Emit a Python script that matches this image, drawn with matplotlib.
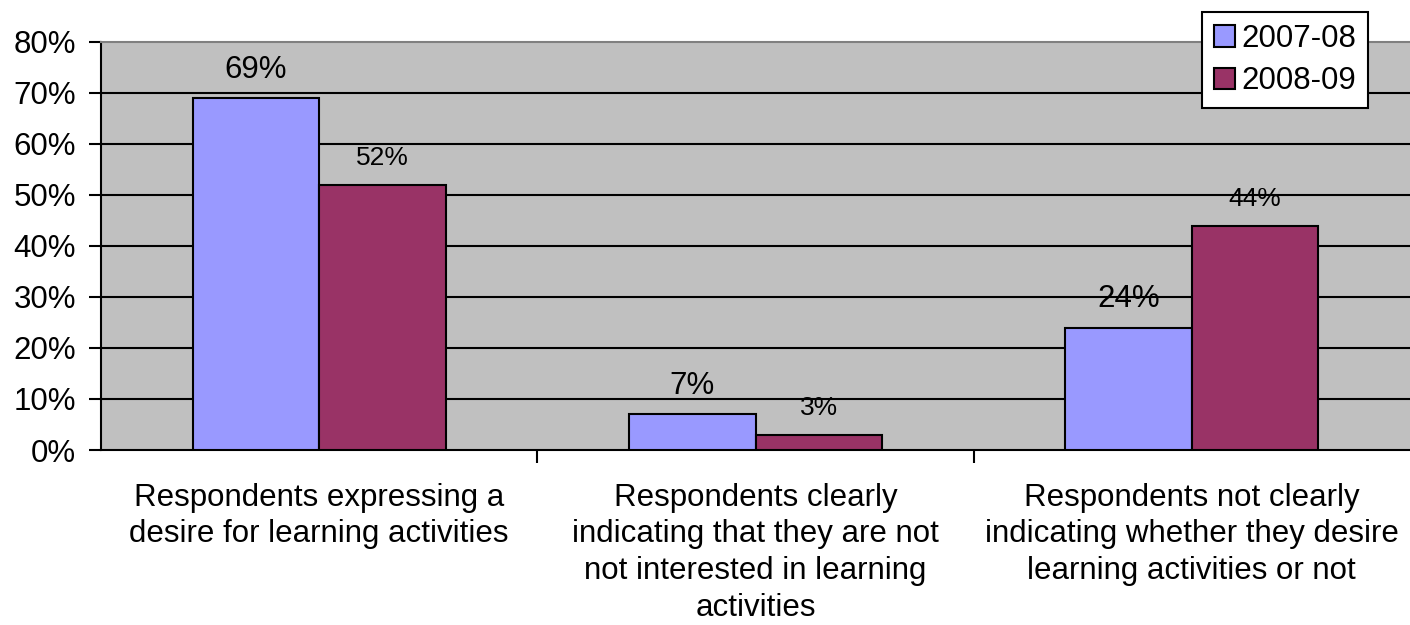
import matplotlib
matplotlib.use("Agg")
import matplotlib.pyplot as plt
from matplotlib.patches import Patch
import numpy as np

categories = [
    "Respondents expressing a\ndesire for learning activities",
    "Respondents clearly\nindicating that they are not\nnot interested in learning\nactivities",
    "Respondents not clearly\nindicating whether they desire\nlearning activities or not",
]
series_names = ["2007-08", "2008-09"]
values_0708 = [69, 7, 24]
values_0809 = [52, 3, 44]
yticks = [0, 10, 20, 30, 40, 50, 60, 70, 80]
ytick_labels = [f"{v}%" for v in yticks]

plt.rcParams['font.family'] = ['Liberation Sans', 'DejaVu Sans']

fig = plt.figure(figsize=(14.1, 6.25), dpi=100)
ax = fig.add_axes([101/1410, 1 - 450/625, 1 - 101/1410, (450 - 42)/625])
ax.set_facecolor("#C0C0C0")

x = np.arange(len(categories))
w = 0.29
b1 = ax.bar(x - w, values_0708, width=w, align='edge', color="#9999FF",
            edgecolor="black", linewidth=1.5, zorder=3)
b2 = ax.bar(x, values_0809, width=w, align='edge', color="#993366",
            edgecolor="black", linewidth=1.5, zorder=3)

for rect, v in zip(b1, values_0708):
    ax.annotate(f"{v}%", (rect.get_x() + rect.get_width()/2, rect.get_height()),
                xytext=(0, 14.5), textcoords='offset points', ha='center',
                va='baseline', fontsize=22.5, zorder=4)
for rect, v in zip(b2, values_0809):
    ax.annotate(f"{v}%", (rect.get_x() + rect.get_width()/2, rect.get_height()),
                xytext=(0, 14), textcoords='offset points', ha='center',
                va='baseline', fontsize=19, zorder=4)

ax.set_ylim(0, 80)
ax.set_xlim(-0.5, 2.5)
ax.set_yticks(yticks)
ax.set_yticklabels(ytick_labels, fontsize=22.5)
for yv in yticks[1:-1]:
    ax.axhline(yv, color="black", linewidth=1.5, zorder=1)

ax.set_xticks([0.5, 1.5])
ax.set_xticklabels([])
ax.set_xticks(x, minor=True)
ax.set_xticklabels(categories, minor=True, fontsize=22.5, linespacing=1.29)
ax.tick_params(axis='x', which='minor', length=0, pad=23.5)
ax.tick_params(axis='x', which='major', length=9, width=1.5, direction='out')
ax.tick_params(axis='y', length=9, width=1.5, direction='out', pad=9)

ax.spines['top'].set_color("#808080")
ax.spines['top'].set_linewidth(1.5)
ax.spines['right'].set_visible(False)
ax.spines['left'].set_linewidth(1.5)
ax.spines['bottom'].set_linewidth(1.5)

handles = [Patch(facecolor="#9999FF", edgecolor="black", linewidth=1.5),
           Patch(facecolor="#993366", edgecolor="black", linewidth=1.5)]
leg = fig.legend(handles, series_names, loc='upper left',
                 bbox_to_anchor=(1202/1410, 1 - 12/625), fontsize=22.5,
                 handlelength=0.68, handleheight=0.68, handletextpad=0.2,
                 labelspacing=0.4, borderpad=0.38, borderaxespad=0,
                 fancybox=False, framealpha=1, edgecolor="black")
leg.get_frame().set_linewidth(1.5)

fig.savefig("out.png", dpi=100)
